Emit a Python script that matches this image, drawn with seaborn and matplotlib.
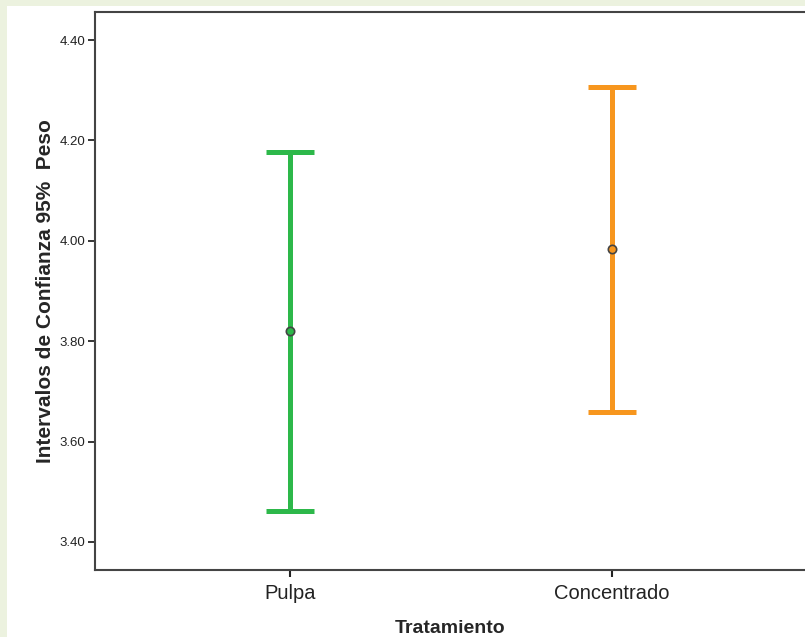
import numpy as np
import pandas as pd
import seaborn as sns
from matplotlib import pyplot as plt
from matplotlib.patches import Rectangle

sns.set_style('white')
plt.rcParams['font.family'] = ['Liberation Sans', 'DejaVu Sans']

tratamiento = ['Pulpa', 'Concentrado']
media = [3.820, 3.984]
limite_inf = [3.462, 3.659]
limite_sup = [4.177, 4.306]
colores = ['#2DB84A', '#F7961E']

df = pd.DataFrame({'Tratamiento': tratamiento, 'Peso': media,
                   'inf': limite_inf, 'sup': limite_sup})

fig = plt.figure(figsize=(8.05, 6.37), dpi=100, facecolor='#ECF2DF')
fig.patches.append(Rectangle((7 / 805, 0), 1, 631 / 637, transform=fig.transFigure,
                             facecolor='white', edgecolor='none', zorder=-10))
ax = fig.add_axes([95 / 805, 67 / 637, 1 - 95 / 805, (570 - 12) / 637])
ax.set_facecolor('white')

for i, row in df.iterrows():
    ax.errorbar(row['Tratamiento'], row['Peso'],
                yerr=[[row['Peso'] - row['inf']], [row['sup'] - row['Peso']]],
                fmt='none', ecolor=colores[i], elinewidth=3.6, capsize=17.5, capthick=3.6)

sns.pointplot(data=df, x='Tratamiento', y='Peso', hue='Tratamiento', palette=colores,
              errorbar=None, linestyle='none', markers='o', markersize=6,
              markeredgecolor='#444444', markeredgewidth=1.2, legend=False, ax=ax, zorder=5)

ax.set_xlim(-0.606, 1.6)
ax.set_ylim(3.344, 4.456)
ax.set_yticks([3.40, 3.60, 3.80, 4.00, 4.20, 4.40])
ax.set_yticklabels(['3.40', '3.60', '3.80', '4.00', '4.20', '4.40'], fontsize=9.5, color='#222222')
ax.tick_params(axis='x', labelsize=14.5, colors='#222222', length=5, width=1.5, direction='out',
               bottom=True, pad=5)
ax.tick_params(axis='y', length=5, width=1.3, direction='out', left=True, pad=2)
for s in ['left', 'bottom', 'top']:
    ax.spines[s].set_color('#444444')
    ax.spines[s].set_linewidth(1.5)
ax.spines['right'].set_visible(False)

ax.set_xlabel('Tratamiento', fontsize=14, fontweight='bold', labelpad=12.5)
ax.set_ylabel('Intervalos de Confianza 95%  Peso', fontsize=15, fontweight='bold', labelpad=3)

plt.savefig('out.png', dpi=100, facecolor=fig.get_facecolor())
